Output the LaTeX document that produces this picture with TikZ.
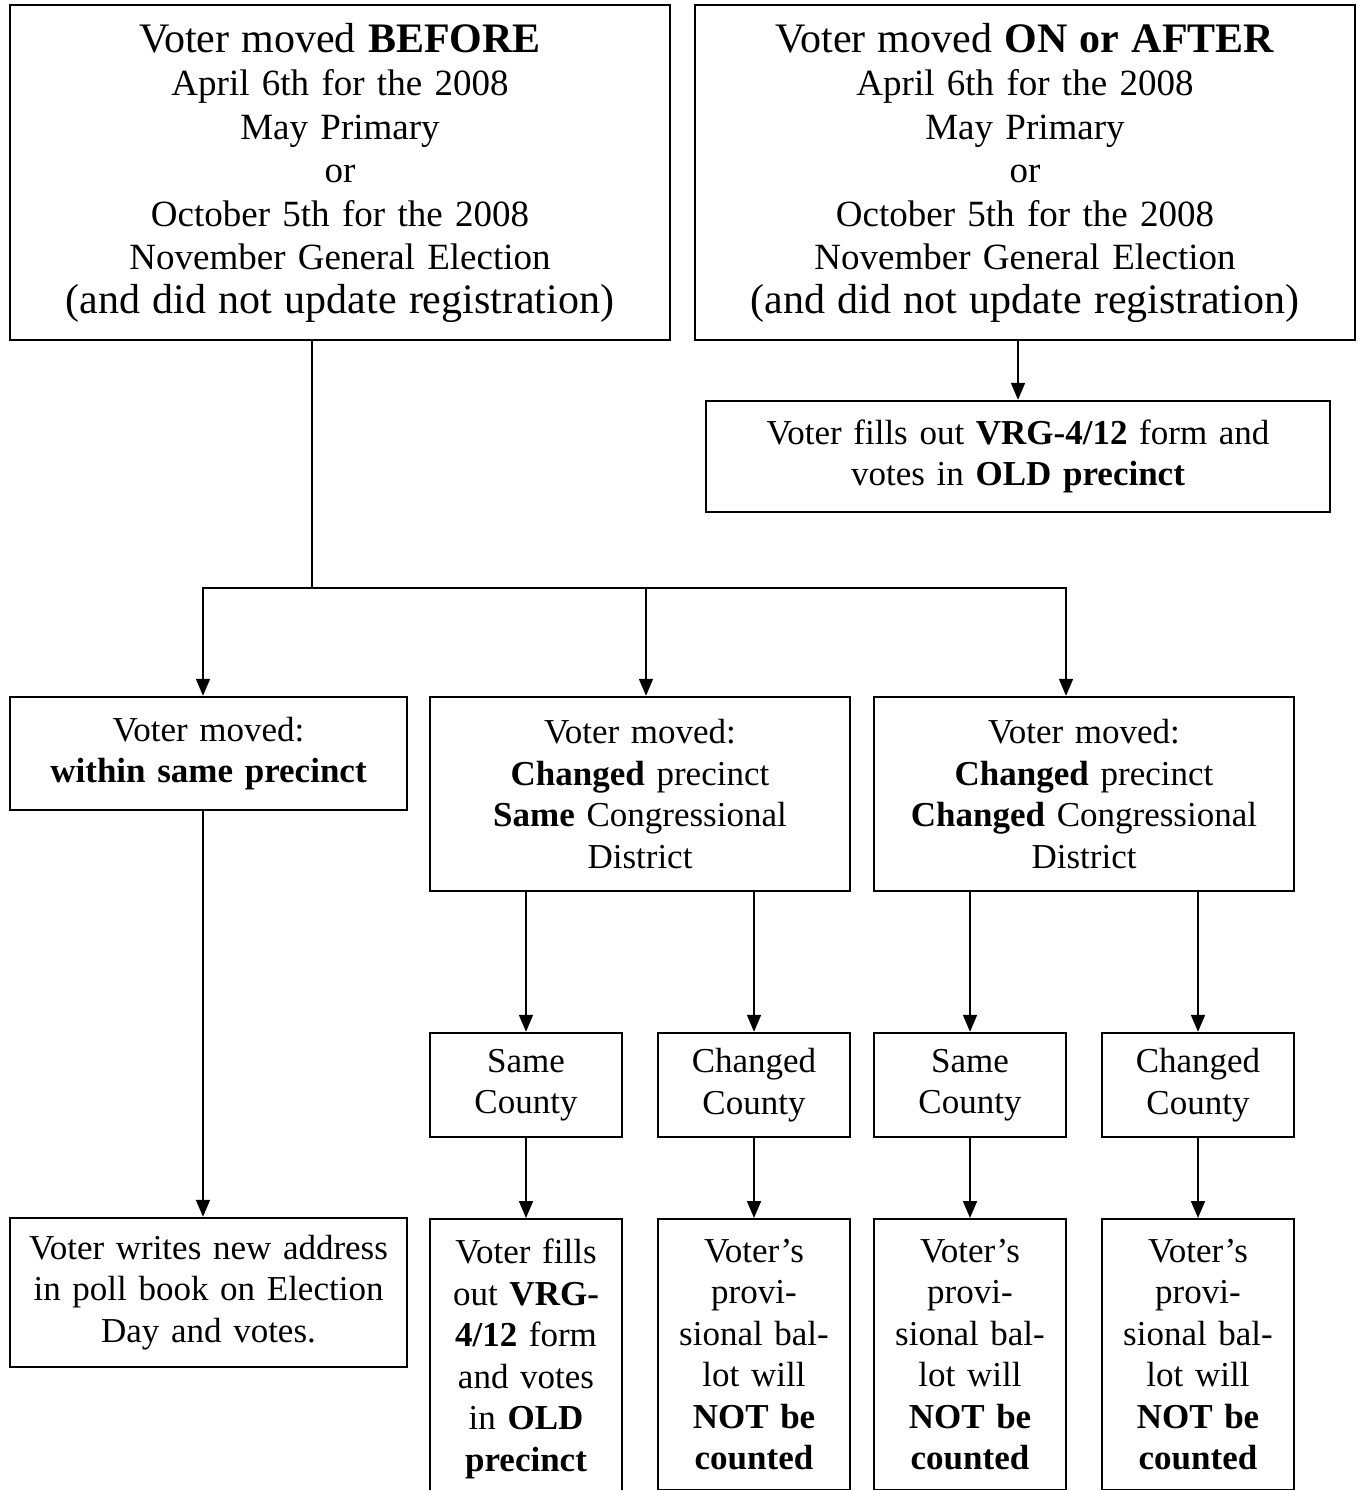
\documentclass[tikz,border=0pt]{standalone}
\usepackage{fontspec}
\setmainfont{Liberation Serif}
\usetikzlibrary{positioning,arrows.meta}

\begin{document}
\begin{tikzpicture}[x=1pt, y=-1pt,
    box/.style={draw, line width=2.4pt, align=center, inner sep=6pt,
      font=\fontsize{35}{41.5}\selectfont},
    bigbox/.style={box, minimum width=660pt, minimum height=335pt, text width=640pt,
      font=\fontsize{37}{43.5}\selectfont},
    countybox/.style={box, minimum width=192pt, minimum height=104pt, text width=180pt},
    endbox/.style={box, anchor=north, minimum width=192pt, text width=180pt, inner ysep=20pt},
    arr/.style={line width=1.8pt, -{Triangle[length=17pt,width=14pt]}}
  ]
  \useasboundingbox (0,0) rectangle (1358,1490);

  \node[bigbox] (before) at (340,172.5) {{\fontsize{42}{43.5}\selectfont Voter moved \textbf{BEFORE}}\\
    April 6th for the 2008\\ May Primary\\ or\\ October 5th for the 2008\\ November General Election\\
    {\fontsize{42}{43.5}\selectfont (and did not update registration)}};
  \node[bigbox] (after) at (1025,172.5) {{\fontsize{42}{43.5}\selectfont Voter moved \textbf{ON or AFTER}}\\
    April 6th for the 2008\\ May Primary\\ or\\ October 5th for the 2008\\ November General Election\\
    {\fontsize{42}{43.5}\selectfont (and did not update registration)}};
  \node[box, minimum width=624pt, minimum height=111pt, text width=610pt] (vrg) at (1018,456.5)
    {Voter fills out \textbf{VRG-4/12} form and\\ votes in \textbf{OLD precinct}};

  \node[box, minimum width=397pt, minimum height=113pt, text width=385pt] (within) at (208.5,753.5)
    {Voter moved:\\ \textbf{within same precinct}};
  \node[box, minimum width=420pt, minimum height=194pt, text width=405pt] (samecd) at (640,794)
    {Voter moved:\\ \textbf{Changed} precinct\\ \textbf{Same} Congressional\\ District};
  \node[box, minimum width=420pt, minimum height=194pt, text width=405pt] (chgcd) at (1084,794)
    {Voter moved:\\ \textbf{Changed} precinct\\ \textbf{Changed} Congressional\\ District};

  \node[countybox] (sameA) at (526,1085) {Same\\ County};
  \node[countybox] (chgA) at (754,1085) {Changed\\ County};
  \node[countybox] (sameB) at (970,1085) {Same\\ County};
  \node[countybox] (chgB) at (1198,1085) {Changed\\ County};

  \node[box, minimum width=397pt, minimum height=149pt, text width=385pt] (writes) at (208.5,1292.5)
    {Voter writes new address\\ in poll book on Election\\ Day and votes.};
  \node[endbox] (oldA) at (526,1218) {Voter fills\\ out \textbf{VRG-}\\ \textbf{4/12} form\\ and votes\\
    in \textbf{OLD}\\ \textbf{precinct}};
  \node[endbox] (notA) at (754,1218) {Voter’s\\ provi-\\ sional bal-\\ lot will\\ \textbf{NOT be}\\ \textbf{counted}};
  \node[endbox] (notB) at (970,1218) {Voter’s\\ provi-\\ sional bal-\\ lot will\\ \textbf{NOT be}\\ \textbf{counted}};
  \node[endbox] (notC) at (1198,1218) {Voter’s\\ provi-\\ sional bal-\\ lot will\\ \textbf{NOT be}\\ \textbf{counted}};

  \coordinate (split) at (312,588);
  \draw[line width=1.8pt] (before.south -| split) -- (split);
  \draw[arr] (split) -| ([xshift=-5.5pt]within.north);
  \draw[arr] (split) -| ([xshift=6pt]samecd.north);
  \draw[arr] (split) -| ([xshift=-18pt]chgcd.north);
  \draw[arr] (after.south -| vrg.north) -- (vrg.north);

  \draw[arr] ([xshift=-5.5pt]within.south) -- ([xshift=-5.5pt]writes.north);
  \draw[arr] (samecd.south -| sameA.north) -- (sameA.north);
  \draw[arr] (samecd.south -| chgA.north) -- (chgA.north);
  \draw[arr] (chgcd.south -| sameB.north) -- (sameB.north);
  \draw[arr] (chgcd.south -| chgB.north) -- (chgB.north);

  \draw[arr] (sameA.south) -- (oldA.north);
  \draw[arr] (chgA.south) -- (notA.north);
  \draw[arr] (sameB.south) -- (notB.north);
  \draw[arr] (chgB.south) -- (notC.north);
\end{tikzpicture}
\end{document}
